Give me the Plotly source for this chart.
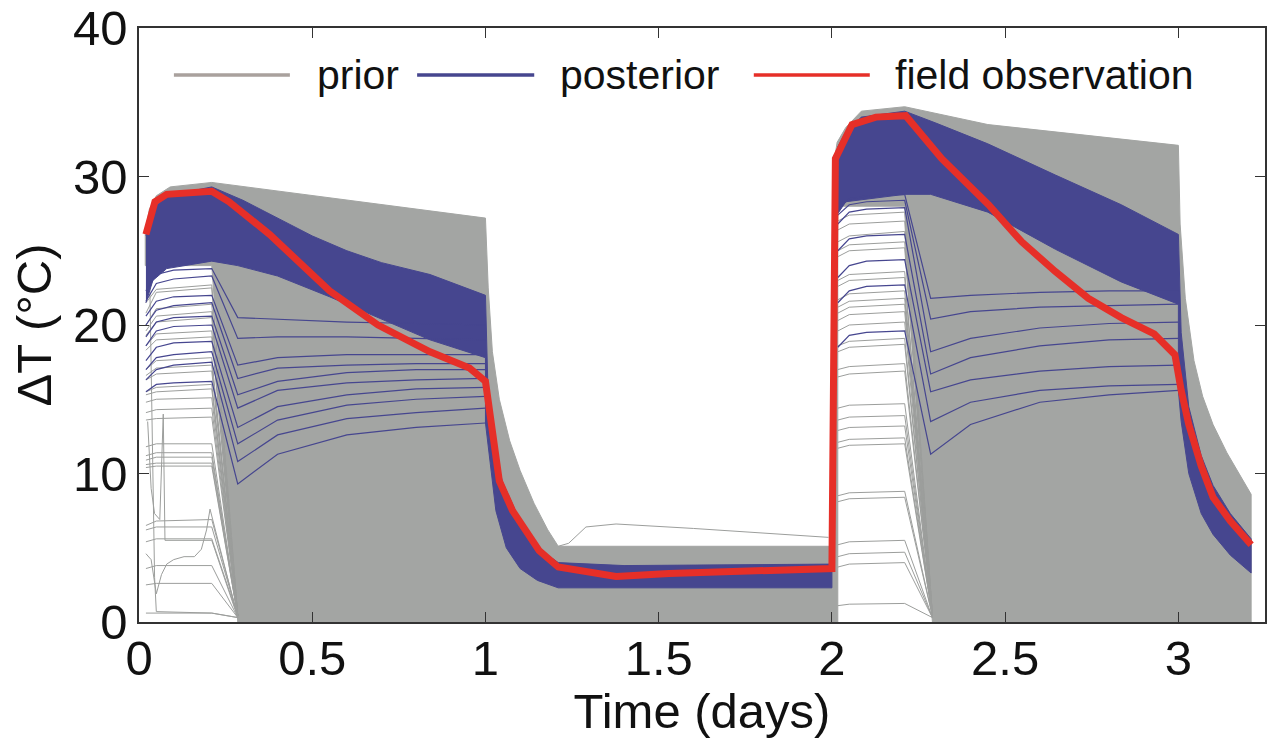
import plotly.graph_objects as go

# ---------------------------------------------------------------- data
# Field observation of the temperature rise (days, degC)
obs_time = [0.02, 0.046, 0.08, 0.21, 0.26, 0.377, 0.55, 0.69, 0.84, 0.954, 1.0,
            1.04, 1.078, 1.117, 1.155, 1.21, 1.377, 1.53, 2.0,
            2.01, 2.058, 2.127, 2.213, 2.317, 2.452, 2.548, 2.645, 2.74, 2.835,
            2.93, 2.99, 3.008, 3.03, 3.066, 3.10, 3.15, 3.21]
obs_dT = [26.1, 28.3, 28.8, 29.0, 28.3, 26.1, 22.3, 20.0, 18.2, 17.1, 16.2,
          9.5, 7.5, 6.2, 4.8, 3.7, 3.07, 3.27, 3.6,
          31.2, 33.5, 34.0, 34.1, 31.2, 28.1, 25.6, 23.6, 21.8, 20.5,
          19.4, 18.0, 15.6, 13.3, 10.5, 8.4, 6.8, 5.2]

# Outline of the densely populated part of the prior ensemble
prior_env_time = [0.018, 0.018, 0.03, 0.05, 0.09, 0.21, 1.0, 1.008, 1.02, 1.04,
                  1.07, 1.1, 1.14, 1.18, 1.21, 2.0, 2.003, 2.015, 2.04, 2.085,
                  2.21, 2.45, 3.0, 3.005, 3.02, 3.045, 3.07, 3.1, 3.14, 3.18,
                  3.21, 3.21, 2.29, 2.21, 2.017, 2.017, 0.285, 0.21, 0.018]
prior_env_dT = [24.0, 26.3, 27.8, 28.7, 29.3, 29.6, 27.2, 22.5, 18.2, 15.0,
                12.2, 10.2, 8.0, 6.2, 5.1, 5.1, 30.5, 32.3, 33.3, 34.4,
                34.7, 33.5, 32.1, 26.8, 21.8, 17.6, 15.2, 13.3, 11.4, 9.8,
                8.6, 0.0, 0.0, 28.0, 28.0, 0.0, 0.0, 24.0, 24.0]

# Sparse prior runs, first heating period
prior_p1_time = [0.02, 0.05, 0.21, 0.285]
prior_p1_runs = [
    [21.5, 22.4, 22.7, 0.4], [20.8, 22.2, 22.5, 0.4], [20.0, 21.1, 21.4, 0.4],
    [19.6, 20.6, 20.9, 0.4], [19.3, 20.2, 20.5, 0.4], [18.6, 19.4, 19.6, 0.4],
    [18.3, 19.0, 19.2, 0.4], [17.0, 17.6, 17.8, 0.4], [16.6, 17.1, 17.3, 0.4],
    [16.3, 16.7, 16.9, 0.4], [15.5, 15.8, 16.0, 0.4], [15.3, 15.5, 15.7, 0.4],
    [14.8, 15.0, 15.1, 0.4], [14.1, 14.3, 14.4, 0.4], [13.6, 13.7, 13.8, 0.4],
    [11.8, 12.0, 12.0, 0.4], [11.2, 11.4, 11.4, 0.4], [10.9, 11.1, 11.1, 0.4],
    [10.6, 10.7, 10.7, 0.4], [10.4, 10.5, 10.5, 0.4], [6.5, 6.8, 6.9, 0.4],
    [6.2, 6.4, 6.4, 0.4], [5.4, 5.6, 5.6, 0.4], [3.6, 3.8, 3.8, 0.3],
    [2.5, 2.6, 2.6, 0.3], [0.6, 0.6, 0.6, 0.3],
]

# Irregular prior runs in the first heating period
prior_odd_time = [
    [0.02, 0.035, 0.05, 0.065, 0.08, 0.1, 0.13, 0.16, 0.18, 0.195, 0.205, 0.285],
    [0.03, 0.045, 0.05, 0.21, 0.285],
    [0.025, 0.035, 0.045, 0.06, 0.07, 0.075, 0.21, 0.285],
]
prior_odd_dT = [
    [4.6, 4.2, 1.9, 3.2, 3.9, 4.2, 4.4, 4.4, 4.9, 6.2, 7.6, 0.3],
    [24.5, 3.0, 0.7, 0.6, 0.3],
    [13.5, 9.0, 7.3, 6.9, 14.0, 5.5, 5.5, 0.3],
]

# Sparse prior runs, second heating period
prior_p3_time = [2.017, 2.05, 2.21, 2.29]
prior_p3_runs = [
    [27.0, 27.4, 27.6, 0.4], [26.4, 26.8, 27.0, 0.4], [25.6, 26.0, 26.3, 0.4],
    [25.0, 25.4, 25.6, 0.4], [24.6, 25.0, 25.2, 0.4], [23.0, 23.4, 23.6, 0.4],
    [22.6, 23.0, 23.2, 0.4], [21.7, 22.1, 22.3, 0.4], [21.2, 21.6, 21.8, 0.4],
    [20.8, 21.2, 21.4, 0.4], [20.3, 20.7, 20.9, 0.4], [19.6, 20.0, 20.2, 0.4],
    [18.6, 18.9, 19.1, 0.4], [18.2, 18.5, 18.7, 0.4], [17.0, 17.2, 17.4, 0.4],
    [16.5, 16.7, 16.9, 0.4], [14.4, 14.6, 14.7, 0.4], [13.6, 13.8, 13.9, 0.4],
    [12.9, 13.1, 13.2, 0.4], [12.1, 12.3, 12.4, 0.4], [11.7, 11.9, 12.0, 0.4],
    [8.5, 8.7, 8.8, 0.4], [8.1, 8.3, 8.4, 0.4], [5.2, 5.4, 5.5, 0.3],
    [4.4, 4.6, 4.7, 0.3], [3.7, 3.9, 4.0, 0.3], [1.1, 1.2, 1.25, 0.3],
]

# Prior run rising above the band between the heating periods
prior_mid_time = [1.21, 1.24, 1.29, 1.377, 1.6, 1.8, 1.99]
prior_mid_dT = [5.1, 5.3, 6.4, 6.6, 6.3, 6.0, 5.7]

# Outline of the dense posterior band, days 0-2
post_env1_time = [0.02, 0.04, 0.08, 0.21, 0.3, 0.4, 0.5, 0.6, 0.7, 0.84, 1.0,
                  1.008, 1.02, 1.05, 1.1, 1.15, 1.21, 1.4, 2.0,
                  2.0, 1.21, 1.15, 1.1, 1.06, 1.03, 1.0, 1.0, 0.84, 0.7, 0.55,
                  0.4, 0.285, 0.21, 0.08, 0.04, 0.02]
post_env1_dT = [26.0, 27.8, 28.7, 29.3, 28.4, 27.2, 26.0, 25.0, 24.2, 23.4, 22.0,
                15.0, 11.8, 9.4, 6.8, 5.0, 4.0, 3.8, 3.9,
                2.3, 2.3, 2.8, 3.6, 5.0, 7.5, 13.4, 17.8, 19.0, 20.4, 21.9,
                23.3, 24.0, 24.3, 23.8, 23.0, 21.5]

# Outline of the dense posterior band, days 2-3.2
post_env2_time = [2.017, 2.04, 2.085, 2.21, 2.3, 2.45, 2.645, 2.835, 3.0, 3.008,
                  3.03, 3.066, 3.1, 3.15, 3.21, 3.21, 3.15, 3.1, 3.066, 3.03,
                  3.008, 3.0, 3.0, 2.835, 2.645, 2.45, 2.285, 2.21, 2.04, 2.017]
post_env2_dT = [32.0, 33.0, 34.0, 34.4, 33.6, 32.2, 30.1, 28.1, 26.1, 19.5,
                14.5, 11.2, 9.2, 7.3, 5.6, 3.3, 4.5, 5.9, 7.3, 10.0,
                13.5, 15.6, 21.4, 22.9, 25.1, 27.6, 28.8, 28.8, 28.3, 27.5]

# Individual posterior runs away from the dense band
post_p1_time = [0.02, 0.05, 0.1, 0.21, 0.285, 0.4, 0.6, 0.8, 1.0]
post_p1_runs = [
    [15.5, 16.0, 16.1, 16.2, 9.3, 11.3, 12.6, 13.1, 13.4],
    [16.3, 17.0, 17.3, 17.5, 10.8, 12.6, 13.7, 14.1, 14.4],
    [17.0, 17.8, 18.0, 18.2, 12.0, 13.6, 14.6, 15.0, 15.2],
    [17.6, 18.5, 18.8, 18.9, 13.1, 14.5, 15.3, 15.7, 15.8],
    [18.6, 19.6, 19.9, 20.0, 14.4, 15.6, 16.1, 16.3, 16.4],
    [19.2, 20.2, 20.5, 20.6, 15.3, 16.2, 16.8, 17.0, 17.0],
    [20.0, 21.0, 21.3, 21.5, 16.4, 17.1, 17.3, 17.4, 17.4],
    [20.6, 21.6, 21.9, 22.0, 17.3, 17.8, 18.0, 18.0, 18.0],
    [21.6, 22.8, 23.1, 23.3, 19.1, 19.2, 19.2, 19.1, 19.0],
    [22.3, 23.4, 23.7, 23.8, 20.5, 20.4, 20.2, 20.1, 20.0],
]
post_p3_time = [2.017, 2.05, 2.1, 2.21, 2.285, 2.4, 2.6, 2.8, 3.0]
post_p3_runs = [
    [18.5, 19.3, 19.5, 19.6, 11.3, 13.3, 14.8, 15.3, 15.6],
    [21.5, 22.3, 22.6, 22.7, 13.5, 14.8, 15.6, 15.9, 16.0],
    [23.2, 24.0, 24.3, 24.4, 15.5, 16.3, 16.9, 17.2, 17.3],
    [25.0, 25.8, 26.0, 26.1, 16.7, 17.8, 18.6, 19.0, 19.1],
    [26.8, 27.6, 27.8, 27.9, 18.2, 19.1, 19.8, 20.1, 20.2],
    [27.4, 28.1, 28.3, 28.4, 20.4, 20.9, 21.2, 21.3, 21.4],
    [27.8, 28.5, 28.7, 28.8, 21.8, 22.0, 22.2, 22.3, 22.3],
]

x_tick_vals = [0, 0.5, 1, 1.5, 2, 2.5, 3]
x_tick_text = ["0", "0.5", "1", "1.5", "2", "2.5", "3"]
y_tick_vals = [0, 10, 20, 30, 40]
y_tick_text = ["0", "10", "20", "30", "40"]
legend_labels = ["prior", "posterior", "field observation"]

# ---------------------------------------------------------------- styles
GRAY = "#9c9e9c"
GRAY_FILL = "#a3a5a3"
BLUE = "#46468f"
RED = "#e62f28"
FONT = "Liberation Sans, Arial, Helvetica, sans-serif"

fig = go.Figure()


def add_line(x, y, color, width):
    fig.add_trace(go.Scatter(x=x, y=y, mode="lines", showlegend=False,
                             hoverinfo="skip",
                             line=dict(color=color, width=width)))


def add_band(x, y, color):
    fig.add_trace(go.Scatter(x=x, y=y, mode="lines", fill="toself",
                             fillcolor=color, showlegend=False,
                             hoverinfo="skip",
                             line=dict(color=color, width=1)))


# prior ensemble
add_band(prior_env_time, prior_env_dT, GRAY_FILL)
for run in prior_p1_runs:
    add_line(prior_p1_time, run, GRAY, 1)
for t, v in zip(prior_odd_time, prior_odd_dT):
    add_line(t, v, GRAY, 1)
for run in prior_p3_runs:
    add_line(prior_p3_time, run, GRAY, 1)
add_line(prior_mid_time, prior_mid_dT, GRAY, 1)

# posterior ensemble
add_band(post_env1_time, post_env1_dT, BLUE)
add_band(post_env2_time, post_env2_dT, BLUE)
for run in post_p1_runs:
    add_line(post_p1_time, run, BLUE, 1.2)
for run in post_p3_runs:
    add_line(post_p3_time, run, BLUE, 1.2)

# field observation
add_line(obs_time, obs_dT, RED, 7)

# legend drawn as line samples and labels across the top of the axes
legend_colors = ["#a9a19d", BLUE, RED]
legend_line_x = [(0.031, 0.134), (0.247, 0.351), (0.546, 0.649)]
legend_text_x = [0.156, 0.372, 0.670]
legend_y = 0.921
for (x0, x1), col, tx, lab in zip(legend_line_x, legend_colors,
                                  legend_text_x, legend_labels):
    fig.add_shape(type="line", xref="paper", yref="paper",
                  x0=x0, x1=x1, y0=legend_y, y1=legend_y,
                  line=dict(color=col, width=3.5))
    fig.add_annotation(xref="paper", yref="paper", x=tx, y=legend_y,
                       text=lab, showarrow=False, xanchor="left",
                       yanchor="middle",
                       font=dict(family=FONT, size=41, color="#111111"))

axis_common = dict(showline=True, linecolor="#333333", linewidth=1.5,
                   mirror="ticks", ticks="inside", ticklen=10,
                   tickcolor="#333333", tickwidth=1.3, showgrid=False,
                   zeroline=False, ticklabeloverflow="allow",
                   tickfont=dict(family=FONT, size=49, color="#111111"))

fig.update_layout(
    width=1268, height=738,
    margin=dict(l=139, r=1, t=26, b=116),
    paper_bgcolor="white", plot_bgcolor="white",
    font=dict(family=FONT, color="#111111"),
    xaxis=dict(range=[0, 3.25], tickvals=x_tick_vals, ticktext=x_tick_text,
               ticklabelstandoff=-8,
               title=dict(text="Time (days)", standoff=6,
                          font=dict(family=FONT, size=49, color="#111111")),
               **axis_common),
    yaxis=dict(range=[0, 40.001], tickvals=y_tick_vals, ticktext=y_tick_text,
               title=dict(text="ΔT (°C)", standoff=6,
                          font=dict(family=FONT, size=49, color="#111111")),
               **axis_common),
)

fig.write_html("out.html")
